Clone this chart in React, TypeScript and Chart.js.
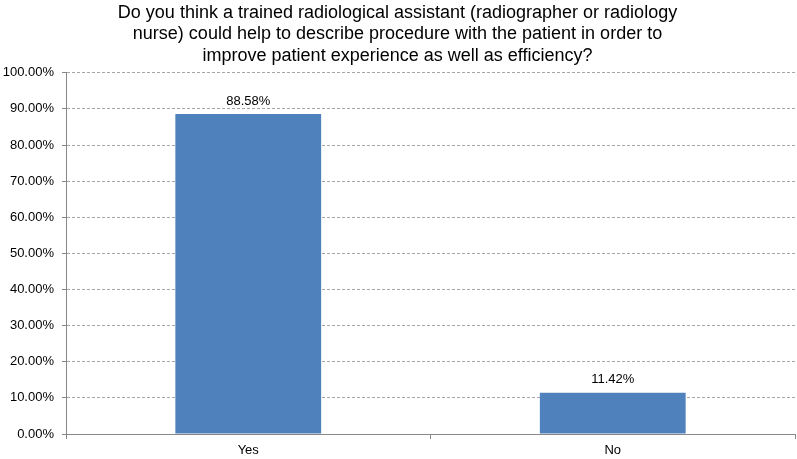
import React, { useEffect, useRef } from "react";
import { Chart, registerables } from "chart.js";

Chart.register(...registerables);

const categories: string[] = ["Yes", "No"];
const percentages: number[] = [88.58, 11.42];
const titleLines: string[] = [
  "Do you think a trained radiological assistant (radiographer or radiology",
  "nurse) could help to describe procedure with the patient in order to",
  "improve patient experience as well as efficiency?",
];

const FONT = "'Liberation Sans', Arial, sans-serif";

const valueLabels = {
  id: "valueLabels",
  afterDatasetsDraw(chart: any) {
    const ctx = chart.ctx;
    const meta = chart.getDatasetMeta(0);
    ctx.save();
    ctx.font = `13px ${FONT}`;
    ctx.fillStyle = "#000";
    ctx.textAlign = "center";
    ctx.textBaseline = "middle";
    meta.data.forEach((bar: any, i: number) => {
      const v = chart.data.datasets[0].data[i] as number;
      ctx.fillText(v.toFixed(2) + "%", bar.x, bar.y - 13);
    });
    ctx.restore();
  },
};

export default function App() {
  const ref = useRef<HTMLCanvasElement | null>(null);
  useEffect(() => {
    document.body.style.margin = "0";
    const chart = new Chart(ref.current!, {
      type: "bar",
      data: {
        labels: categories,
        datasets: [
          {
            data: percentages,
            backgroundColor: "#4F81BD",
            borderWidth: 0,
            categoryPercentage: 0.8,
            barPercentage: 0.5,
          },
        ],
      },
      options: {
        responsive: false,
        animation: false,
        layout: { padding: { left: 0, right: 2, top: 0, bottom: 0 } },
        plugins: {
          legend: { display: false },
          tooltip: { enabled: false },
          title: {
            display: true,
            text: titleLines,
            color: "#000",
            font: { family: FONT, size: 18, weight: "normal", lineHeight: 1.2 },
            padding: { top: 2, bottom: 6 },
          },
        },
        scales: {
          x: {
            afterFit: (scale: any) => {
              scale.height = 25;
            },
            grid: {
              display: true,
              drawOnChartArea: false,
              drawTicks: true,
              tickLength: 5,
              color: "#888",
              offset: true,
            },
            border: { display: true, color: "#888", width: 1 },
            ticks: {
              color: "#000",
              font: { family: FONT, size: 13 },
              padding: 4,
            },
          },
          y: {
            min: 0,
            max: 100,
            afterFit: (scale: any) => {
              scale.width = 66;
            },
            grid: {
              color: "#a6a6a6",
              drawTicks: true,
              tickLength: 4,
              tickColor: "#888",
              tickBorderDash: [],
            } as any,
            border: { display: true, color: "#888", width: 1, dash: [3, 2] },
            ticks: {
              stepSize: 10,
              color: "#000",
              font: { family: FONT, size: 13 },
              padding: 8,
              callback: (v: any) => Number(v).toFixed(2) + "%",
            },
          },
        },
      },
      plugins: [valueLabels],
    });
    return () => chart.destroy();
  }, []);
  return (
    <div style={{ width: 797, height: 459 }}>
      <canvas ref={ref} width={797} height={459} style={{ display: "block" }} />
    </div>
  );
}
